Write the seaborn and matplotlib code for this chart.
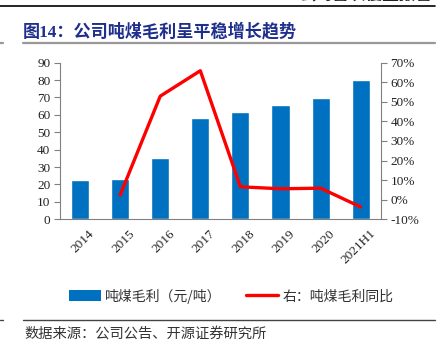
import numpy as np
import pandas as pd
import matplotlib
matplotlib.use("Agg")
import matplotlib.pyplot as plt
from matplotlib.lines import Line2D
from matplotlib.patches import Patch
from matplotlib.ticker import FuncFormatter, FixedLocator
import matplotlib.transforms as mtransforms
import seaborn as sns

categories = ["2014", "2015", "2016", "2017", "2018", "2019", "2020", "2021H1"]
margin = [22.3, 22.9, 35.4, 58.1, 61.9, 65.7, 69.5, 80.2]
yoy = [np.nan, 0.024, 0.529, 0.659, 0.066, 0.056, 0.059, -0.037]
left_ticks = [0, 10, 20, 30, 40, 50, 60, 70, 80, 90]
right_ticks = [-0.1, 0.0, 0.1, 0.2, 0.3, 0.4, 0.5, 0.6, 0.7]

sns.set_style("white")
plt.rcParams['font.family'] = ['Noto Sans CJK SC', 'DejaVu Sans']

W, H = 447, 349
fig = plt.figure(figsize=(W / 100, H / 100), dpi=100)

def fx(px):
    return px / W

def fy(py):
    return 1 - py / H

ax_l, ax_r, ax_t, ax_b = 60, 380.7, 62.7, 219.3
ax = fig.add_axes([fx(ax_l), fy(ax_b), fx(ax_r - ax_l), (ax_b - ax_t) / H])

df = pd.DataFrame({"cat": categories, "margin": margin, "pos": np.arange(len(categories)), "yoy": yoy})

blue = "#0070C0"
red = "#FF0000"
spine_c = "#808080"
serif = ['Liberation Serif', 'Noto Sans CJK SC']

sns.barplot(data=df, x="cat", y="margin", color=blue, width=0.45, saturation=1, ax=ax, zorder=2)
ax.set_xlim(-0.5, len(categories) - 0.5)
ax.set_ylim(0, 90)
ax.set_yticks(left_ticks)
ax.set_xlabel("")
ax.set_ylabel("")

ax2 = ax.twinx()
sns.lineplot(data=df.dropna(), x="pos", y="yoy", color=red, linewidth=2.4, ax=ax2, zorder=3)
ax2.set_ylim(-0.1, 0.7)
ax2.set_yticks(right_ticks)
ax2.yaxis.set_major_formatter(FuncFormatter(lambda v, p: f"{v*100:.0f}%"))
ax2.set_xlabel("")
ax2.set_ylabel("")
ax2.set_xlim(-0.5, len(categories) - 0.5)

for a in (ax, ax2):
    for s in a.spines.values():
        s.set_color(spine_c)
        s.set_linewidth(0.8)
    a.spines['top'].set_visible(False)
    a.grid(False)
ax.spines['right'].set_visible(False)
ax2.spines['left'].set_visible(False)
ax2.spines['bottom'].set_visible(False)

ax.set_xticks(np.arange(len(categories)))
ax.set_xticklabels(categories, rotation=45, ha='right', rotation_mode='anchor',
                   family=serif, fontsize=9.5, color='#222222')
ax.tick_params(axis='x', which='major', length=0, pad=6)
ax.xaxis.set_minor_locator(FixedLocator(np.arange(0.5, len(categories) - 0.5, 1)))
ax.tick_params(axis='x', which='minor', direction='in', length=4, color=spine_c, width=0.8)

ax.tick_params(axis='y', direction='out', length=4, color=spine_c, width=0.8, pad=3, labelsize=9.5, labelcolor='#222222')
ax2.tick_params(axis='y', direction='out', length=4, color=spine_c, width=0.8, pad=3, labelsize=9.5, labelcolor='#222222')
for lab in ax.get_yticklabels() + ax2.get_yticklabels():
    lab.set_family(serif)

offset = mtransforms.ScaledTranslation(6 / 72, 0, fig.dpi_scale_trans)
for lab in ax.get_xticklabels():
    lab.set_transform(lab.get_transform() + offset)

# header (cut off at the top edge, as in the reference)
fig.add_artist(Line2D([0, fx(435)], [fy(6), fy(6)], color='black', linewidth=1.2))
fig.text(fx(432), fy(4), "公司首次覆盖报告", ha='right', va='bottom', fontsize=12, color='#222222', fontweight='bold')

# title
fig.text(fx(23), fy(32), "图14：公司吨煤毛利呈平稳增长趋势", ha='left', va='center', fontsize=12.3,
         fontweight='bold', color='#1F2F8C', family=serif)
fig.add_artist(Line2D([fx(23), fx(435)], [fy(43), fy(43)], color='#999999', linewidth=1.6))
fig.add_artist(Line2D([0, fx(3)], [fy(43), fy(43)], color='#999999', linewidth=1.6))

# legend
handles = [Patch(facecolor=blue, edgecolor='none'), Line2D([0], [0], color=red, linewidth=2.4)]
labels = ["吨煤毛利（元/吨）", "右：吨煤毛利同比"]
fig.legend(handles, labels, loc='center', bbox_to_anchor=(fx(231), fy(296)), ncol=2, frameon=False,
           fontsize=10, handlelength=2.3, handleheight=0.8, handletextpad=0.3, columnspacing=1.8,
           labelcolor='#333333')

# source
fig.add_artist(Line2D([fx(23), fx(435)], [fy(320), fy(320)], color='#444444', linewidth=1.0))
fig.add_artist(Line2D([0, fx(3)], [fy(320), fy(320)], color='#444444', linewidth=1.0))
fig.text(fx(24), fy(334), "数据来源：公司公告、开源证券研究所", ha='left', va='center', fontsize=10.3, color='#333333')

fig.savefig("out.png", dpi=100)
